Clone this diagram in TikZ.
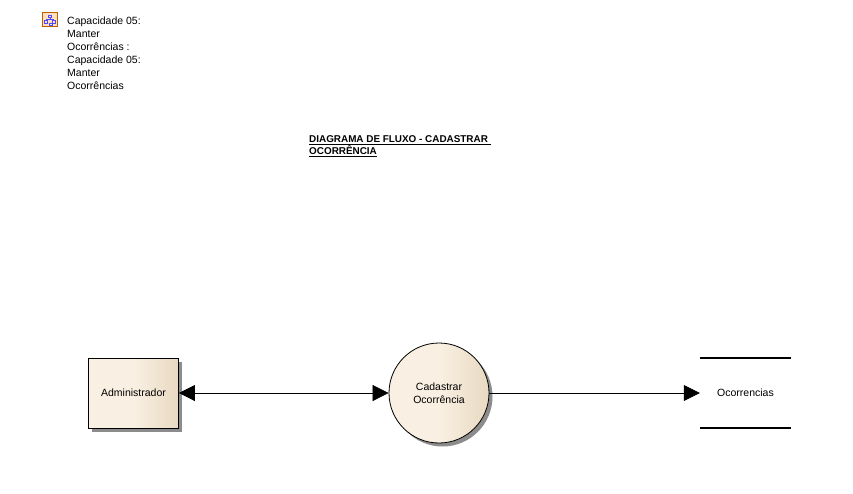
\documentclass[tikz,border=0pt]{standalone}
\usepackage{fontspec}
\setmainfont{Liberation Sans}
\usetikzlibrary{arrows.meta,shadows}
\definecolor{fillLeft}{HTML}{F9F0E3}
\definecolor{fillRight}{HTML}{E8D9C1}
\tikzset{
    elemStyle/.style={draw=black, line width=0.8pt, left color=fillLeft, right color=fillRight, middle color=fillLeft,
        drop shadow={shadow xshift=3.5pt, shadow yshift=-3.5pt, fill=black!45, opacity=1}, align=center,
        font=\fontsize{10.5}{13}\selectfont, inner sep=0pt},
    plainText/.style={align=left, anchor=north west, inner sep=0pt, font=\fontsize{10.5}{13}\selectfont},
    flowStyle/.style={draw, line width=0.7pt, -{Triangle[length=16pt,width=16pt]}},
}
\begin{document}
\begin{tikzpicture}[x=1pt, y=-1pt]
    \useasboundingbox (0, 0) rectangle (853, 493);

    \node[draw=orange!75!black, line width=1.2pt, fill=orange!25, minimum size=14.5pt, inner sep=0pt](icon) at (50, 19.5) {};
    \draw[blue!70!white, line width=0.7pt] (48.5, 15) rectangle (51.5, 17.5) (50, 17.5) -- (50, 19) (46, 19) -- (53.5, 19) (46, 19) -- (46, 20.5) (53.5, 19) -- (53.5, 20.5)
        (44.5, 20.5) rectangle (47.5, 23) (52, 20.5) rectangle (55, 23) (49, 23.5) rectangle (52, 25.5);
    \node[plainText](package) at (67, 15.3) {\rule{0pt}{9pt}Capacidade 05:\\Manter\\Ocorrências :\\Capacidade 05:\\Manter\\Ocorrências};
    \node[plainText, font=\bfseries\fontsize{9.9}{12.5}\selectfont](title) at (309, 135.3) {\underline{DIAGRAMA DE FLUXO - CADASTRAR\ }\\\underline{OCORRÊNCIA}};

    \node[elemStyle, minimum width=90pt, minimum height=70pt](admin) at (133.5, 393) {Administrador};
    \node[elemStyle, circle, minimum size=100pt](cadastrar) at (439, 393) {Cadastrar\\Ocorrência};
    \node[align=center, inner sep=0pt, minimum width=91pt, minimum height=70pt, font=\fontsize{10.5}{13}\selectfont](store) at (745.5, 393) {Ocorrencias};

    \draw[line width=1.6pt] (store.north west) -- (store.north east);
    \draw[line width=1.6pt] (store.south west) -- (store.south east);

    \draw[flowStyle, {Triangle[length=16pt,width=16pt]}-{Triangle[length=16pt,width=16pt]}] (admin) -- (cadastrar);
    \draw[flowStyle] (cadastrar) -- (store);
\end{tikzpicture}
\end{document}
